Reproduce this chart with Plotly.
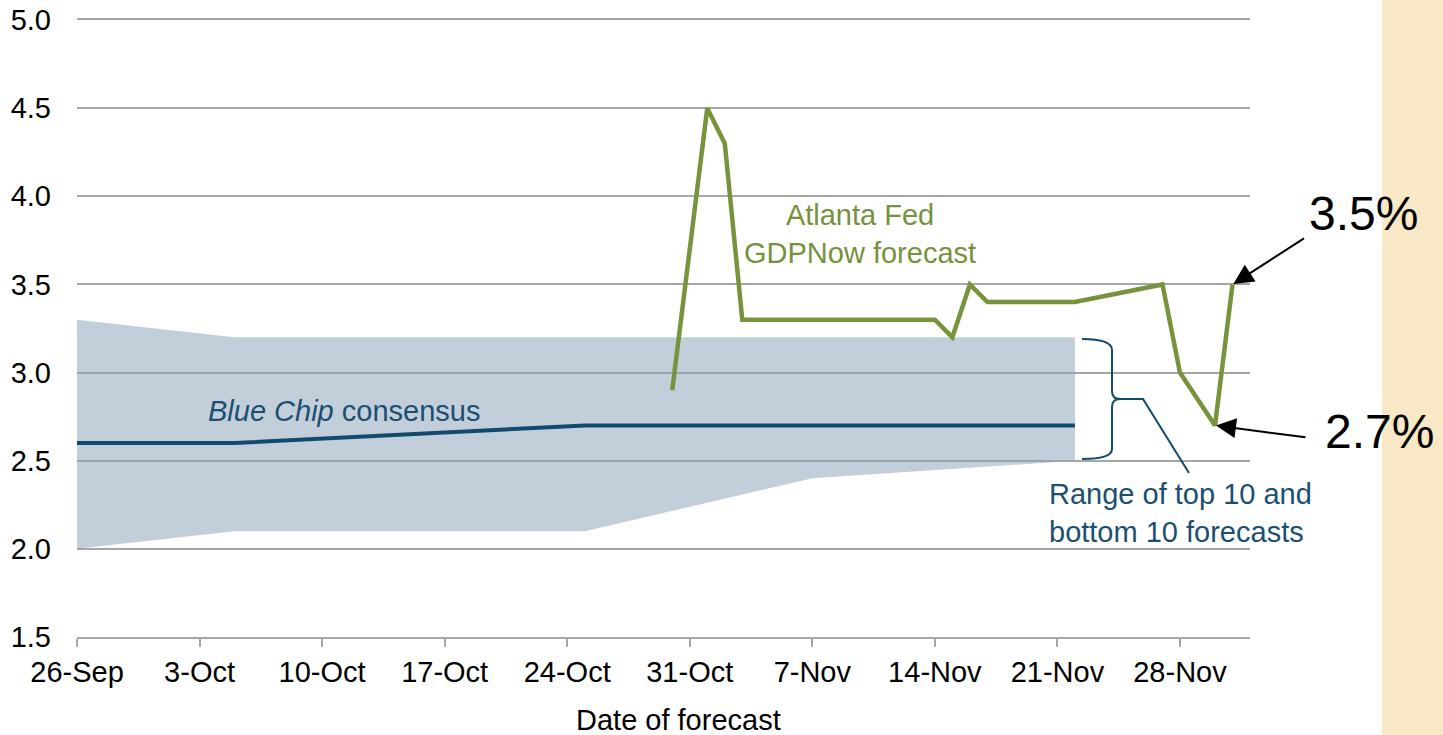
import plotly.graph_objects as go

# ---------------- data ----------------
band_upper_dates = ["2017-09-26", "2017-10-05", "2017-11-22"]
band_upper_vals = [3.3, 3.2, 3.2]
band_lower_dates = ["2017-09-26", "2017-10-05", "2017-10-25", "2017-11-07", "2017-11-22"]
band_lower_vals = [2.0, 2.1, 2.1, 2.4, 2.5]

bluechip_dates = ["2017-09-26", "2017-10-05", "2017-10-25", "2017-11-22"]
bluechip_vals = [2.6, 2.6, 2.7, 2.7]

gdpnow_dates = ["2017-10-30", "2017-11-01", "2017-11-02", "2017-11-03", "2017-11-14",
                "2017-11-15", "2017-11-16", "2017-11-17", "2017-11-22", "2017-11-27",
                "2017-11-28", "2017-11-30", "2017-12-01"]
gdpnow_vals = [2.9, 4.5, 4.3, 3.3, 3.3, 3.2, 3.5, 3.4, 3.4, 3.5, 3.0, 2.7, 3.5]

x_range = ["2017-09-26", "2017-12-02"]
y_range = [1.5, 5.0]
y_ticks = [1.5, 2.0, 2.5, 3.0, 3.5, 4.0, 4.5, 5.0]

# ---------------- layout geometry (page pixels; body margin removed) ----------------
W, H = 1443, 735
PLOT_L, PLOT_R, PLOT_T, PLOT_B = 77, 1250, 20, 637
ML, MT = PLOT_L, PLOT_T
MR = W - PLOT_R
MB = H - PLOT_B
PW = PLOT_R - PLOT_L
PH = PLOT_B - PLOT_T


def px(x):
    return (x - PLOT_L) / PW


def py(y):
    return (PLOT_B - y) / PH


FONT = "Arial, Liberation Sans, sans-serif"
GREEN = "#77933C"
NAVY = "#124A6E"
TEXTBLUE = "#1B4F72"
GRID = "#A6A6A6"
FS = 29

fig = go.Figure()

# band (range of top 10 / bottom 10)
fig.add_trace(go.Scatter(
    x=band_upper_dates + band_lower_dates[::-1],
    y=band_upper_vals + band_lower_vals[::-1],
    fill="toself", fillcolor="rgba(140,165,185,0.53)",
    line=dict(width=0), mode="lines", hoverinfo="skip", showlegend=False))

fig.add_trace(go.Scatter(
    x=bluechip_dates, y=bluechip_vals, mode="lines",
    line=dict(color=NAVY, width=4), showlegend=False))

fig.add_trace(go.Scatter(
    x=gdpnow_dates, y=gdpnow_vals, mode="lines",
    line=dict(color=GREEN, width=4.5), showlegend=False))

shapes = []
# tan strip on the right
shapes.append(dict(type="rect", xref="paper", yref="paper",
                   x0=px(1382), x1=px(1460), y0=py(760), y1=py(-20),
                   fillcolor="#F8E8C6", line=dict(width=0), layer="below"))

# curly brace
brace = (f"M {px(1082)},{py(339)} Q {px(1112)},{py(339)} {px(1112)},{py(350)} "
         f"L {px(1112)},{py(391)} Q {px(1112)},{py(399)} {px(1120)},{py(399)} "
         f"Q {px(1112)},{py(399)} {px(1112)},{py(407)} "
         f"L {px(1112)},{py(449)} Q {px(1112)},{py(459)} {px(1082)},{py(459)}")
shapes.append(dict(type="path", xref="paper", yref="paper", path=brace,
                   line=dict(color=NAVY, width=2)))
leader = f"M {px(1120)},{py(399)} L {px(1143)},{py(399)} L {px(1189)},{py(473)}"
shapes.append(dict(type="path", xref="paper", yref="paper", path=leader,
                   line=dict(color=NAVY, width=2)))

annotations = [
    dict(xref="paper", yref="paper", x=px(860), y=py(234),
         text="Atlanta Fed<br>GDPNow forecast", showarrow=False,
         font=dict(family=FONT, size=FS, color="#76923C"),
         xanchor="center", yanchor="middle", align="center"),
    dict(xref="paper", yref="paper", x=px(344), y=py(411),
         text="<i>Blue Chip</i> consensus", showarrow=False,
         font=dict(family=FONT, size=FS, color=TEXTBLUE),
         xanchor="center", yanchor="middle"),
    dict(xref="paper", yref="paper", x=px(1047), y=py(513),
         text="Range of top 10 and<br>bottom 10 forecasts", showarrow=False,
         font=dict(family=FONT, size=FS, color=TEXTBLUE),
         xanchor="left", yanchor="middle", align="left"),
    dict(xref="paper", yref="paper", x=px(678), y=py(720),
         text="Date of forecast", showarrow=False,
         font=dict(family=FONT, size=FS, color="#000000"),
         xanchor="center", yanchor="middle"),
    dict(xref="paper", yref="paper", x=px(1363), y=py(213),
         text="3.5%", showarrow=False,
         font=dict(family=FONT, size=48, color="#000000"),
         xanchor="center", yanchor="middle"),
    dict(xref="paper", yref="paper", x=px(1379), y=py(431),
         text="2.7%", showarrow=False,
         font=dict(family=FONT, size=48, color="#000000"),
         xanchor="center", yanchor="middle"),
    # arrows
    dict(x=gdpnow_dates[-1], y=gdpnow_vals[-1], xref="x", yref="y",
         ax=73, ay=-47, text="", showarrow=True, arrowhead=2,
         arrowsize=2, arrowwidth=2, arrowcolor="#000000", standoff=1),
    dict(x=gdpnow_dates[-2], y=gdpnow_vals[-2], xref="x", yref="y",
         ax=92, ay=12, text="", showarrow=True, arrowhead=2,
         arrowsize=2, arrowwidth=2, arrowcolor="#000000", standoff=1),
]

fig.update_layout(
    width=W, height=H,
    margin=dict(l=ML, r=MR, t=MT, b=MB, pad=0, autoexpand=False),
    paper_bgcolor="white", plot_bgcolor="white",
    showlegend=False,
    shapes=shapes, annotations=annotations,
    font=dict(family=FONT, color="#000000"),
    xaxis=dict(
        type="date", range=x_range, automargin=False,
        tick0="2017-09-26", dtick=7 * 24 * 3600 * 1000,
        tickformat="%-d-%b",
        showgrid=False, zeroline=False,
        showline=True, mirror=True, linecolor=GRID, linewidth=2,
        ticks="outside", ticklen=8, tickwidth=1.5, tickcolor=GRID,
        tickfont=dict(family=FONT, size=FS, color="#000000"),
        ticklabelstandoff=0,
    ),
    yaxis=dict(
        range=y_range, tickvals=y_ticks, automargin=False,
        ticktext=[f"{v:.1f}" for v in y_ticks],
        showgrid=True, gridcolor=GRID, gridwidth=1.5,
        zeroline=False, showline=False, ticks="",
        tickfont=dict(family=FONT, size=FS, color="#000000"),
        ticklabelstandoff=25,
    ),
)

fig.write_html(
    "out.html",
    config={"displayModeBar": False},
    post_script="document.body.style.margin='0';document.body.style.overflow='hidden';",
)
